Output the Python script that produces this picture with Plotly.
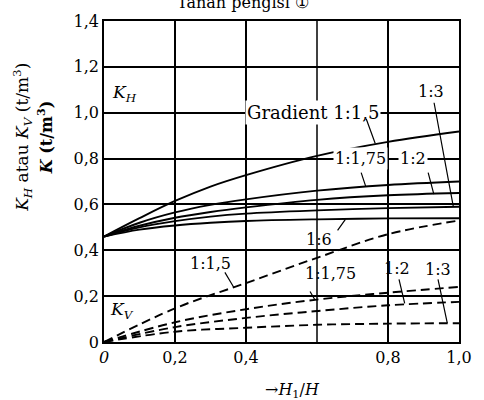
import plotly.graph_objects as go

# ---- data ----
x_kh = [0, 0.1, 0.2, 0.3, 0.4, 0.6, 0.8, 1.0]
kh_1_15 = [0.46, 0.54, 0.615, 0.678, 0.728, 0.812, 0.873, 0.918]
kh_1_175 = [0.46, 0.52, 0.565, 0.598, 0.622, 0.66, 0.685, 0.70]
kh_1_2 = [0.46, 0.507, 0.542, 0.567, 0.587, 0.62, 0.64, 0.65]
kh_1_3 = [0.46, 0.50, 0.527, 0.547, 0.56, 0.574, 0.584, 0.59]
kh_1_6 = [0.46, 0.49, 0.508, 0.52, 0.528, 0.535, 0.539, 0.54]

x_kv = [0, 0.2, 0.4, 0.6, 0.8, 1.0]
kv_1_15 = [0, 0.147, 0.257, 0.367, 0.47, 0.53]
kv_1_175 = [0, 0.086, 0.143, 0.185, 0.215, 0.24]
kv_1_2 = [0, 0.065, 0.105, 0.135, 0.16, 0.175]
kv_1_3 = [0, 0.045, 0.062, 0.075, 0.08, 0.082]

x_tick_vals = [0, 0.2, 0.4, 0.8, 1.0]
x_tick_text = ["<i>0</i>", "0,2", "0,4", "0,8", "1,0"]
y_tick_vals = [0, 0.2, 0.4, 0.6, 0.8, 1.0, 1.2, 1.4]
y_tick_text = ["0", "0,2", "0,4", "0,6", "0,8", "1,0", "1,2", "1,4"]

FONT = "DejaVu Serif"
fig = go.Figure()

for ys in [kh_1_15, kh_1_175, kh_1_2, kh_1_3, kh_1_6]:
    fig.add_trace(go.Scatter(x=x_kh, y=ys, mode="lines", line=dict(color="black", width=1.9, shape="spline"),
                             showlegend=False, hoverinfo="skip"))
for ys in [kv_1_15, kv_1_175, kv_1_2, kv_1_3]:
    fig.add_trace(go.Scatter(x=x_kv, y=ys, mode="lines",
                             line=dict(color="black", width=1.9, shape="spline", dash="9px,5px"),
                             showlegend=False, hoverinfo="skip"))

axis_common = dict(showgrid=True, gridcolor="black", gridwidth=1.5, showline=True, linecolor="black",
                   linewidth=1.6, mirror=True, zeroline=False, ticks="",
                   tickfont=dict(family=FONT, size=16, color="black"))
fig.update_xaxes(range=[0, 1.0], tickvals=x_tick_vals, ticktext=x_tick_text, **axis_common)
fig.update_yaxes(range=[0, 1.4], tickvals=y_tick_vals, ticktext=y_tick_text, **axis_common)
# vertical gridline at 0.6 (no label)
fig.add_vline(x=0.6, line=dict(color="black", width=1.5))

def txt(x, y, t, size=16, **kw):
    fig.add_annotation(x=x, y=y, text=t, showarrow=False, xanchor="center", yanchor="middle",
                       font=dict(family=FONT, size=size, color="black"), **kw)

def leader(x0, y0, x1, y1):
    fig.add_annotation(x=x1, y=y1, ax=x0, ay=y0, axref="x", ayref="y", text="",
                       showarrow=True, arrowhead=0, arrowwidth=1.2, arrowcolor="black", standoff=0, startstandoff=0)

txt(0.058, 1.084, "<i>K<sub>H</sub></i>", size=17)
txt(0.05, 0.139, "<i>K<sub>V</sub></i>", size=17)
txt(0.589, 1.0, "Gradient 1:1,5", size=18, bgcolor="white")
txt(0.723, 0.8, "1:1,75", size=16, bgcolor="white")
txt(0.87, 0.8, "1:2", size=16, bgcolor="white")
txt(0.92, 1.093, "1:3", size=16, bgcolor="white")
txt(0.605, 0.447, "1:6", size=16)
txt(0.3, 0.343, "1:1,5", size=16)
txt(0.638, 0.3, "1:1,75", size=16)
txt(0.825, 0.32, "1:2", size=16)
txt(0.94, 0.317, "1:3", size=16)

leader(0.737, 0.98, 0.764, 0.866)
leader(0.723, 0.745, 0.737, 0.68)
leader(0.912, 0.745, 0.929, 0.645)
leader(0.929, 1.05, 0.984, 0.59)
leader(0.655, 0.48, 0.68, 0.535)
leader(0.338, 0.31, 0.365, 0.24)
leader(0.578, 0.227, 0.594, 0.184)
leader(0.83, 0.28, 0.847, 0.168)
leader(0.94, 0.28, 0.967, 0.082)

# titles
def ptxt(x, y, t, size=16, angle=0):
    fig.add_annotation(xref="paper", yref="paper", x=x, y=y, text=t, showarrow=False, textangle=angle,
                       xanchor="center", yanchor="middle", font=dict(family=FONT, size=size, color="black"))

ptxt(0.392, 1.059, "Tanah pengisi ①", size=16)
ptxt(-0.230, 0.637, "<i>K<sub>H</sub></i> atau <i>K<sub>V</sub></i> (t/m<sup>3</sup>)", size=17, angle=-90)
ptxt(-0.167, 0.637, "<b><i>K</i> (t/m<sup>3</sup>)</b>", size=16, angle=-90)
ptxt(0.532, -0.152, "→<i>H</i><sub>1</sub>/<i>H</i>", size=16)

fig.update_layout(width=484, height=400, margin=dict(l=104, r=15, t=20, b=58),
                  plot_bgcolor="white", paper_bgcolor="white")
fig.write_html("out.html", config={"displayModeBar": False},
               post_script="document.body.style.margin='0px';")
